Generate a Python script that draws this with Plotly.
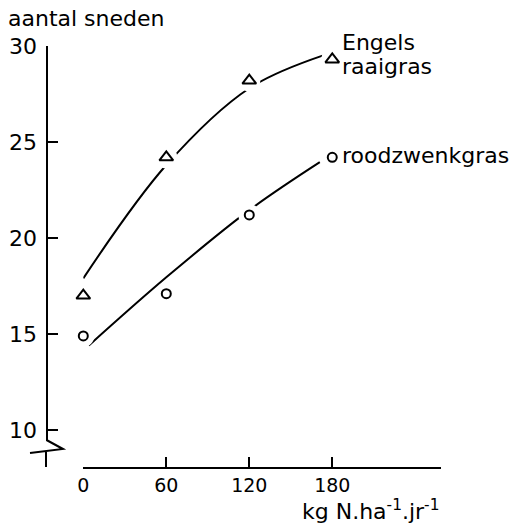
import plotly.graph_objects as go

# ---- data ----
n_rate = [0, 60, 120, 180]                       # kg N/ha/jr
engels = [17.0, 24.2, 28.2, 29.3]                # Engels raaigras (triangles)
roodzwenk = [14.9, 17.1, 21.2, 24.2]             # roodzwenkgras (circles)

engels_curve_x = [0, 60, 120, 173]
engels_curve_y = [17.9, 23.8, 27.8, 29.5]
rood_curve_x = [4, 60, 120, 171]
rood_curve_y = [14.4, 17.95, 21.45, 23.95]

x_ticks = [0, 60, 120, 180]
y_ticks = [10, 15, 20, 25, 30]

W, H = 524, 527
FONT = "DejaVu Sans"


def px(x):
    return x / W


def py(y):
    return 1 - y / H


fig = go.Figure()

for cx, cy in [(engels_curve_x, engels_curve_y), (rood_curve_x, rood_curve_y)]:
    fig.add_trace(go.Scatter(x=cx, y=cy, mode="lines",
                             line=dict(color="black", width=2, shape="spline"),
                             hoverinfo="skip", showlegend=False))

# white masks to break the curves around the markers
for ys in [engels, roodzwenk]:
    fig.add_trace(go.Scatter(x=n_rate, y=ys, mode="markers", cliponaxis=False,
                             marker=dict(symbol="circle", size=22, color="white",
                                         line=dict(width=0)),
                             hoverinfo="skip", showlegend=False))

fig.add_trace(go.Scatter(x=n_rate, y=engels, mode="markers", cliponaxis=False,
                         marker=dict(symbol="triangle-up-open", size=12, color="black",
                                     line=dict(width=2, color="black")),
                         showlegend=False))
fig.add_trace(go.Scatter(x=n_rate, y=roodzwenk, mode="markers", cliponaxis=False,
                         marker=dict(symbol="circle-open", size=9, color="black",
                                     line=dict(width=2, color="black")),
                         showlegend=False))

# y axis break symbol
fig.add_shape(type="path", xref="paper", yref="paper",
              path=(f"M {px(46.5)},{py(440)} L {px(63)},{py(449)} L {px(30)},{py(453)} "
                    f"M {px(46)},{py(452)} L {px(46)},{py(467)}"),
              line=dict(color="black", width=2))

ann = [
    dict(text="aantal sneden", x=px(6), y=py(19), xanchor="left", yanchor="middle", size=22),
    dict(text="kg N.ha<sup>-1</sup>.jr<sup>-1</sup>", x=px(300), y=py(510),
         xanchor="left", yanchor="middle", size=22),
    dict(text="Engels", x=px(340), y=py(42), xanchor="left", yanchor="middle", size=22),
    dict(text="raaigras", x=px(340), y=py(66), xanchor="left", yanchor="middle", size=22),
    dict(text="roodzwenkgras", x=px(340), y=py(155), xanchor="left", yanchor="middle", size=22),
]
for a in ann:
    fig.add_annotation(text=a["text"], x=a["x"], y=a["y"], xref="paper", yref="paper",
                       xanchor=a["xanchor"], yanchor=a["yanchor"], showarrow=False,
                       font=dict(family=FONT, size=a["size"], color="black"))

fig.update_layout(
    width=W, height=H,
    margin=dict(l=0, r=0, t=0, b=0, pad=0, autoexpand=False),
    paper_bgcolor="white", plot_bgcolor="white",
    font=dict(family=FONT, color="black"),
    xaxis=dict(domain=[px(83.3), px(440.7)], range=[0, 258.4],
               anchor="free", position=py(468), automargin=False,
               showgrid=False, zeroline=False, showline=True, linecolor="black", linewidth=2,
               ticks="inside", ticklen=10, tickwidth=2, tickcolor="black",
               tickvals=x_ticks, ticktext=[str(v) for v in x_ticks],
               tickfont=dict(family=FONT, size=19, color="black")),
    yaxis=dict(domain=[py(441), py(46)], range=[30 - 395 / 19.2, 30],
               anchor="free", position=px(46.5), automargin=False,
               showgrid=False, zeroline=False, showline=True, linecolor="black", linewidth=2,
               ticks="inside", ticklen=10, tickwidth=2, tickcolor="black",
               tickvals=y_ticks, ticktext=[str(v) for v in y_ticks],
               ticklabelstandoff=4,
               tickfont=dict(family=FONT, size=22, color="black")),
)

fig.write_html("out.html")
